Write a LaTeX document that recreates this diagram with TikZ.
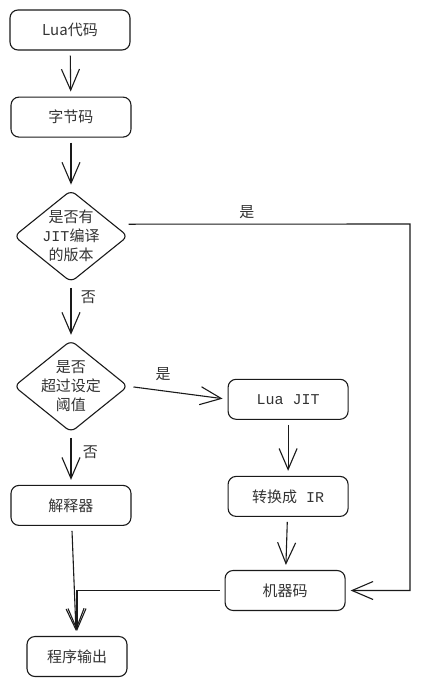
\documentclass[tikz,border=0pt]{standalone}
\usepackage{fontspec}
\setmainfont{Liberation Mono}
\newfontfamily\cjk{Noto Sans CJK SC}
\usetikzlibrary{arrows.meta,positioning,shapes.geometric}
\definecolor{flowLine}{HTML}{1A1A1A}
\definecolor{flowText}{HTML}{333333}

\begin{document}
\begin{tikzpicture}[
    x=1pt, y=-1pt,
    node distance=53pt,
    box/.style={draw=flowLine, line width=1.1pt, rounded corners=8pt,
                minimum width=120pt, minimum height=40pt, align=center,
                text=flowText, font=\fontsize{15}{19}\selectfont},
    decision/.style={diamond, draw=flowLine, line width=1.1pt, rounded corners=6pt,
                minimum width=114pt, minimum height=92pt, inner sep=-14pt,
                align=center, text=flowText, font=\fontsize{15}{19}\selectfont},
    lbl/.style={text=flowText, font=\cjk\fontsize{15}{19}\selectfont},
    arr/.style={-{Straight Barb[length=21pt, width=18pt]}, draw=flowLine,
                line width=1.1pt, shorten <=5pt, shorten >=5pt}]

    \useasboundingbox (0,0) rectangle (423,686);

    \node[box] (luasrc) at (70,30) {\cjk Lua代码};
    \node[box, below=46pt of luasrc, xshift=1pt] (bytecode) {\cjk 字节码};
    \node[decision, below=52pt of bytecode] (hasjit) {{\cjk 是否有}\\JIT{\cjk 编译}\\{\cjk 的版本}};
    \node[decision, below=57pt of hasjit] (hot) {{\cjk 是否}\\{\cjk 超过设定}\\{\cjk 阈值}};
    \node[box, below=52pt of hot] (interp) {\cjk 解释器};
    \node[box, below=110pt of interp, xshift=6pt, minimum width=100pt] (output) {\cjk 程序输出};
    \node[box, right=99pt of hot, yshift=-13pt] (luajit) {Lua JIT};
    \node[box, below=56pt of luajit] (toir) {{\cjk 转换成} IR};
    \node[box, below=53pt of toir, xshift=-3pt] (mcode) {\cjk 机器码};
    \coordinate (rail) at (410,224);

    \draw[arr] (luasrc) -- (bytecode);
    \draw[arr] (bytecode) -- (hasjit);
    \draw[arr] (hasjit) -- node[lbl, right=6pt, pos=0.26]{否} (hot);
    \draw[arr, shorten <=0pt] ([yshift=12pt]hasjit.east) -- node[lbl, above=2pt, pos=0.42]{是}
        (rail) |- (mcode.east);
    \draw[arr] (hot.east) -- node[lbl, above=6pt, pos=0.35]{是} (luajit.west);
    \draw[arr] (hot) -- node[lbl, right=8pt, pos=0.38]{否} (interp);
    \draw[arr] (luajit) -- (toir);
    \draw[arr] (toir) -- (mcode);
    \draw[arr] (interp) -- (output);
    \draw[arr] (mcode.west) -| (output.north);
\end{tikzpicture}
\end{document}
